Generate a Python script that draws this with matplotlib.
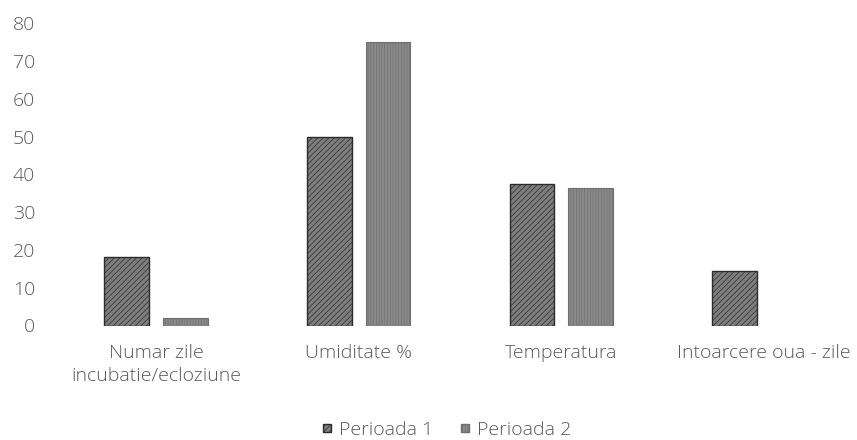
import numpy as np
import matplotlib.pyplot as plt
from matplotlib.patches import Patch

# data
categories = ["Numar zile\nincubatie/ecloziune", "Umiditate %", "Temperatura", "Intoarcere oua - zile"]
perioada_1 = [18, 50, 37.5, 14.5]
perioada_2 = [2, 75, 36.5, np.nan]
y_ticks = [0, 10, 20, 30, 40, 50, 60, 70, 80]

text_color = "#595959"
plt.rcParams["font.family"] = ["Open Sans", "DejaVu Sans"]
plt.rcParams["font.weight"] = "light"
plt.rcParams["hatch.linewidth"] = 0.5

fig = plt.figure(figsize=(8.57, 4.40), dpi=100)
# plot area placed in pixel terms of the reference (right edge runs just past the canvas)
ax = fig.add_axes([54.5 / 857, (440 - 325.5) / 440, 811 / 857, 302.4 / 440])

x = np.arange(len(categories))
w = 0.22
off = 0.145

plt.rcParams["hatch.color"] = "#555555"
ax.bar(x - off, perioada_1, w, color="#7e7e7e", edgecolor="#2b2b2b", linewidth=1.0,
       hatch="//////", label="Perioada 1")
plt.rcParams["hatch.color"] = "#a8a8a8"
ax.bar(x + off, perioada_2, w, color="#8a8a8a", edgecolor="#6e6e6e", linewidth=0.8,
       hatch="||||||", label="Perioada 2")

ax.set_xlim(-0.5, len(categories) - 0.5)
ax.set_ylim(0, 80)
ax.set_yticks(y_ticks)
ax.set_xticks(x)
ax.set_xticklabels(categories, linespacing=1.4)

for s in ax.spines.values():
    s.set_visible(False)
ax.tick_params(axis="both", length=0, labelsize=14, colors=text_color)
ax.tick_params(axis="y", pad=14)
ax.tick_params(axis="x", pad=13)

handles = [
    Patch(facecolor="#7e7e7e", edgecolor="#2b2b2b", hatch="//////", label="Perioada 1"),
    Patch(facecolor="#8a8a8a", edgecolor="#6e6e6e", hatch="||||||", label="Perioada 2"),
]
leg = fig.legend(handles=handles, loc="center", bbox_to_anchor=(447 / 857, 1 - 430 / 440),
                 ncol=2, frameon=False, fontsize=14, handlelength=0.45, handleheight=0.25,
                 handletextpad=0.4, columnspacing=1.4, borderpad=0)
for t in leg.get_texts():
    t.set_color(text_color)

fig.savefig("out.png", dpi=100)
